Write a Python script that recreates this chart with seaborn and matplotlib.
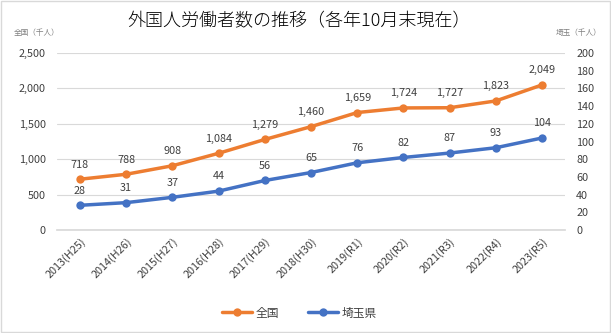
import matplotlib
matplotlib.use("Agg")
import matplotlib.pyplot as plt
import seaborn as sns
import pandas as pd
from matplotlib.patches import Rectangle

sns.set_theme(style="white")
plt.rcParams['font.family'] = ['Noto Sans CJK JP', 'DejaVu Sans']

years = ["2013(H25)", "2014(H26)", "2015(H27)", "2016(H28)", "2017(H29)",
         "2018(H30)", "2019(R1)", "2020(R2)", "2021(R3)", "2022(R4)", "2023(R5)"]
national = [718, 788, 908, 1084, 1279, 1460, 1659, 1724, 1727, 1823, 2049]
saitama = [28, 31, 37, 44, 56, 65, 76, 82, 87, 93, 104]

orange = "#ED7D31"
blue = "#4472C4"
text_col = "#404040"

df = pd.DataFrame({"year": years, "national": national, "saitama": saitama})
df["pos"] = range(len(years))

fig = plt.figure(figsize=(6.11, 3.33), dpi=100)
ax = fig.add_axes([0.093, 0.309, 0.832, 0.532])
ax2 = ax.twinx()

sns.lineplot(data=df, x="pos", y="national", ax=ax, color=orange, lw=2.5,
             marker="o", markersize=6, markeredgewidth=0, label="全国", legend=False)
sns.lineplot(data=df, x="pos", y="saitama", ax=ax2, color=blue, lw=2.5,
             marker="o", markersize=6, markeredgewidth=0, label="埼玉県", legend=False)

ax.set_ylim(0, 2500)
ax.set_yticks(range(0, 2501, 500))
ax.set_yticklabels([f"{v:,}" for v in range(0, 2501, 500)])
ax2.set_ylim(0, 200)
ax2.set_yticks(range(0, 201, 20))
ax.set_xlim(-0.5, len(years) - 0.5)
ax.set_xticks(df["pos"])
ax.set_xticklabels(years, rotation=45, ha="right", rotation_mode="anchor")

ax.grid(axis="y", color="#D9D9D9", lw=0.8)
ax.set_axisbelow(True)
for a in (ax, ax2):
    for s in a.spines.values():
        s.set_visible(False)
    a.tick_params(length=0, labelsize=7.8, colors=text_col, pad=8)
    a.set_xlabel("")
    a.set_ylabel("")
ax.spines["bottom"].set_visible(True)
ax.spines["bottom"].set_color("#D9D9D9")
ax.tick_params(axis="x", pad=4)

for x, v in zip(df["pos"], national):
    ax.annotate(f"{v:,}", (x, v), xytext=(0, 7), textcoords="offset points",
                ha="center", va="bottom", fontsize=7.8, color=text_col)
for x, v in zip(df["pos"], saitama):
    ax2.annotate(f"{v}", (x, v), xytext=(0, 7), textcoords="offset points",
                 ha="center", va="bottom", fontsize=7.8, color=text_col)

fig.text(0.49, 0.935, "外国人労働者数の推移（各年10月末現在）", ha="center", va="center",
         fontsize=13, color="black", fontweight="light")
fig.text(0.022, 0.9, "全国（千人）", ha="left", va="center", fontsize=5.5, color="#808080")
fig.text(0.985, 0.9, "埼玉（千人）", ha="right", va="center", fontsize=5.5, color="#808080")

h1, l1 = ax.get_legend_handles_labels()
h2, l2 = ax2.get_legend_handles_labels()
fig.legend(h1 + h2, l1 + l2, loc="center", bbox_to_anchor=(0.49, 0.06), ncol=2,
           frameon=False, fontsize=8.5, handlelength=2.5, columnspacing=2.5,
           labelcolor=text_col, handletextpad=0.3)

fig.patches.append(Rectangle((0.001, 0.002), 0.997, 0.995, transform=fig.transFigure,
                             fill=False, edgecolor="#D9D9D9", lw=1))

fig.savefig("out.png", dpi=100)
